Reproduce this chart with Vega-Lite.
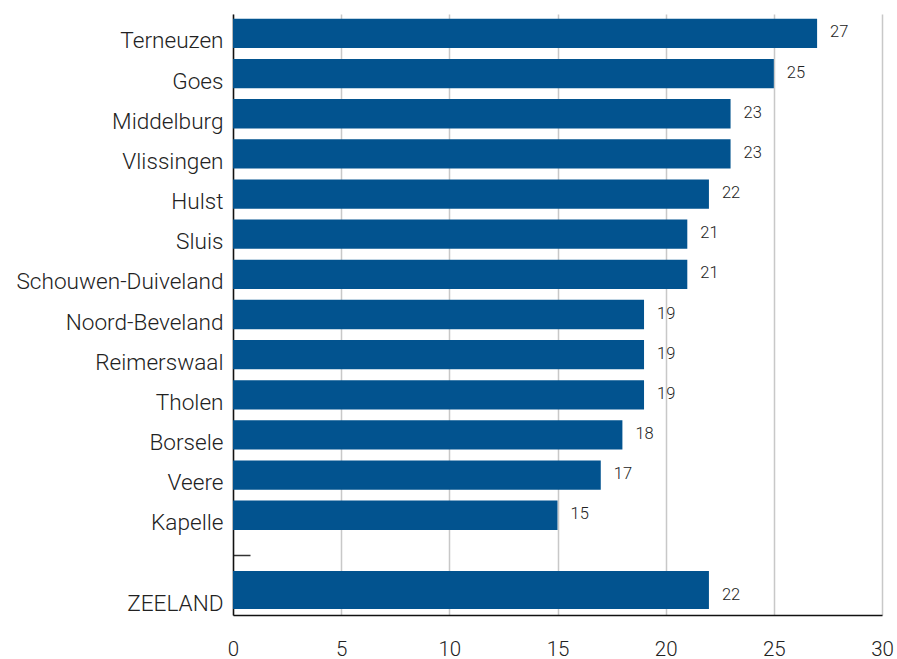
{
  "$schema": "https://vega.github.io/schema/vega-lite/v6.json",
  "width": 649,
  "height": 601,
  "autosize": {"type": "none"},
  "padding": {"left": 233, "top": 14, "right": 15, "bottom": 44},
  "background": "white",
  "config": {"view": {"stroke": null}, "font": "Roboto"},
  "data": {
    "values": [
      {"gemeente": "Terneuzen", "waarde": 27},
      {"gemeente": "Goes", "waarde": 25},
      {"gemeente": "Middelburg", "waarde": 23},
      {"gemeente": "Vlissingen", "waarde": 23},
      {"gemeente": "Hulst", "waarde": 22},
      {"gemeente": "Sluis", "waarde": 21},
      {"gemeente": "Schouwen-Duiveland", "waarde": 21},
      {"gemeente": "Noord-Beveland", "waarde": 19},
      {"gemeente": "Reimerswaal", "waarde": 19},
      {"gemeente": "Tholen", "waarde": 19},
      {"gemeente": "Borsele", "waarde": 18},
      {"gemeente": "Veere", "waarde": 17},
      {"gemeente": "Kapelle", "waarde": 15},
      {"gemeente": "ZEELAND", "waarde": 22}
    ]
  },
  "encoding": {
    "y": {
      "field": "gemeente",
      "type": "nominal",
      "scale": {
        "domain": ["Terneuzen", "Goes", "Middelburg", "Vlissingen", "Hulst", "Sluis", "Schouwen-Duiveland", "Noord-Beveland", "Reimerswaal", "Tholen", "Borsele", "Veere", "Kapelle", " ", "ZEELAND"],
        "paddingInner": 0.27,
        "paddingOuter": 0.12
      },
      "axis": {
        "title": null,
        "domainColor": "#111",
        "domainWidth": 1.5,
        "labelFontSize": 22.6,
        "labelFontWeight": 300,
        "labelColor": "#222",
        "labelPadding": 27,
        "labelOffset": 8,
        "labelLimit": 400,
        "ticks": true,
        "tickSize": -17,
        "tickWidth": 1.5,
        "tickColor": {"condition": {"test": "datum.value === ' '", "value": "#333"}, "value": "transparent"},
        "grid": false
      }
    },
    "x": {
      "field": "waarde",
      "type": "quantitative",
      "scale": {"domain": [0, 30], "nice": false},
      "axis": {
        "title": null,
        "values": [0, 5, 10, 15, 20, 25, 30],
        "grid": true,
        "gridColor": "#c8c8c8",
        "gridWidth": 1.5,
        "domainColor": "#111",
        "domainWidth": 1.5,
        "ticks": false,
        "labelFontSize": 20.5,
        "labelFontWeight": 300,
        "labelColor": "#222",
        "labelBaseline": "alphabetic",
        "labelPadding": 40,
        "labelFlush": false
      }
    }
  },
  "layer": [
    {
      "transform": [{"filter": "datum.gemeente !== 'ZEELAND'"}],
      "mark": {"type": "bar", "color": "#02538f"}
    },
    {
      "transform": [{"filter": "datum.gemeente === 'ZEELAND'"}],
      "mark": {"type": "bar", "color": "#02538f", "height": {"band": 1.3}, "yOffset": -5.5}
    },
    {
      "mark": {"type": "text", "align": "left", "baseline": "middle", "dx": 13, "dy": -1, "fontSize": 16.5, "fontWeight": 300, "color": "#222"},
      "encoding": {"text": {"field": "waarde", "type": "quantitative"}}
    }
  ]
}
